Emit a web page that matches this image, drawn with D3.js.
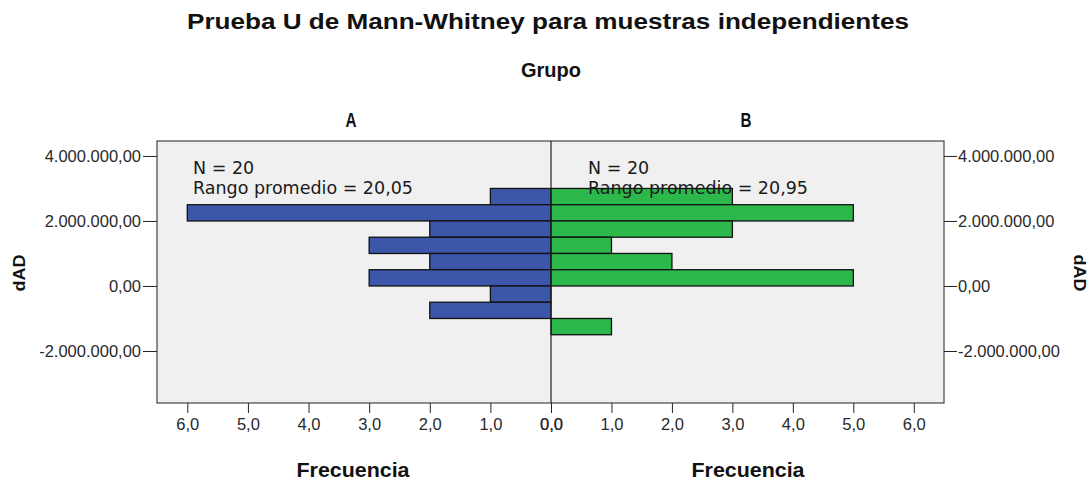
<!DOCTYPE html>
<html>
<head>
<meta charset="utf-8">
<script src="https://cdn.jsdelivr.net/npm/d3@7"></script>
<style>
  body { margin: 0; background: white; }
  .axis text { font-family: "Liberation Sans", Arial, sans-serif; fill: #2a2a2a; }
  .axis line { stroke: #222; }
  .axis path { display: none; }
</style>
</head>
<body>
<div id="canvas-div"></div>
<script>
// histogram data (bins of 500.000)
const groups = ["A", "B"];
const binStarts = [2500000, 2000000, 1500000, 1000000, 500000, 0, -500000, -1000000, -1500000];
const binWidth = 500000;
const countsA = [1, 6, 2, 3, 2, 3, 1, 2, 0];
const countsB = [3, 5, 3, 1, 2, 5, 0, 0, 1];
const yTicks = [-2000000, 0, 2000000, 4000000];
const xTicks = [0, 1, 2, 3, 4, 5, 6];
const annotA = ["N = 20", "Rango promedio = 20,05"];
const annotB = ["N = 20", "Rango promedio = 20,95"];

const width = 1092, height = 484;
const frame = { left: 157, right: 944, top: 141, bottom: 403 };
const mid = 551;

const locale = d3.formatLocale({ decimal: ",", thousands: ".", grouping: [3], currency: ["", ""], minus: "-" });
const fmtY = locale.format(",.2f");
const fmtX = locale.format(".1f");

const svg = d3.select("#canvas-div")
    .append("svg")
    .attr("width", width)
    .attr("height", height);

const yScale = d3.scaleLinear()
    .domain([-3600000, 4460000])
    .range([frame.bottom, frame.top]);

const xLeft = d3.scaleLinear().domain([0, 6.5]).range([mid, frame.left]);
const xRight = d3.scaleLinear().domain([0, 6.5]).range([mid, frame.right]);

// plot background
svg.append("rect")
    .attr("x", frame.left)
    .attr("y", frame.top)
    .attr("width", frame.right - frame.left)
    .attr("height", frame.bottom - frame.top)
    .attr("fill", "#f0f0f0");

// bars
function drawBars(counts, scale, color, cls) {
    const rows = binStarts.map((b, i) => ({ start: b, count: counts[i] })).filter(d => d.count > 0);
    svg.selectAll("." + cls)
        .data(rows)
        .enter()
        .append("rect")
        .attr("class", cls)
        .attr("x", d => Math.min(scale(0), scale(d.count)))
        .attr("y", d => yScale(d.start + binWidth))
        .attr("width", d => Math.abs(scale(d.count) - scale(0)))
        .attr("height", d => yScale(d.start) - yScale(d.start + binWidth))
        .attr("fill", color)
        .attr("stroke", "#111")
        .attr("stroke-width", 1.3);
}
drawBars(countsA, xLeft, "#3c56a9", "bar-a");
drawBars(countsB, xRight, "#2db84b", "bar-b");

// frame + centre line
svg.append("rect")
    .attr("x", frame.left)
    .attr("y", frame.top)
    .attr("width", frame.right - frame.left)
    .attr("height", frame.bottom - frame.top)
    .attr("fill", "none")
    .attr("stroke", "#444")
    .attr("stroke-width", 1.2);

svg.append("line")
    .attr("x1", mid).attr("x2", mid)
    .attr("y1", frame.top).attr("y2", frame.bottom)
    .attr("stroke", "#222")
    .attr("stroke-width", 1.2);

// annotations
function drawAnnot(lines, x) {
    svg.append("g").selectAll("text")
        .data(lines)
        .enter()
        .append("text")
        .attr("x", x)
        .attr("y", (d, i) => 174 + i * 20)
        .attr("font-family", "DejaVu Sans, sans-serif")
        .attr("font-size", 17.5)
        .attr("fill", "#1a1a1a")
        .text(d => d);
}
drawAnnot(annotA, 193);
drawAnnot(annotB, 588);

// y axes
svg.append("g")
    .attr("class", "axis")
    .attr("transform", "translate(" + frame.left + ",0)")
    .call(d3.axisLeft(yScale).tickValues(yTicks).tickSize(14).tickPadding(2).tickFormat(fmtY))
    .selectAll("text").attr("font-size", 16.5);

svg.append("g")
    .attr("class", "axis")
    .attr("transform", "translate(" + frame.right + ",0)")
    .call(d3.axisRight(yScale).tickValues(yTicks).tickSize(13).tickPadding(1).tickFormat(fmtY))
    .selectAll("text").attr("font-size", 16.5);

// x axes
[xLeft, xRight].forEach(scale => {
    svg.append("g")
        .attr("class", "axis")
        .attr("transform", "translate(0," + frame.bottom + ")")
        .call(d3.axisBottom(scale).tickValues(xTicks).tickSize(10).tickPadding(6).tickFormat(fmtX))
        .selectAll("text").attr("font-size", 16)
        .attr("textLength", 23)
        .attr("lengthAdjust", "spacingAndGlyphs");
});

// titles (stretched glyphs like the source)
function label(txt, x, y, size, len, rot) {
    const t = svg.append("text")
        .attr("text-anchor", "middle")
        .attr("font-family", "Liberation Sans, Arial, sans-serif")
        .attr("font-weight", "bold")
        .attr("font-size", size)
        .attr("fill", "#111")
        .attr("textLength", len)
        .attr("lengthAdjust", "spacingAndGlyphs")
        .text(txt);
    if (rot) {
        t.attr("transform", "translate(" + x + "," + y + ") rotate(" + rot + ")");
    } else {
        t.attr("x", x).attr("y", y);
    }
}

label("Prueba U de Mann-Whitney para muestras independientes", 548, 29, 22, 722);
label("Grupo", 551, 77, 20, 60);
label(groups[0], 351, 127, 20, 11);
label(groups[1], 746, 127, 20, 11);
label("Frecuencia", 353, 477, 19.5, 113);
label("Frecuencia", 748, 477, 19.5, 113);
label("dAD", 25, 273, 16.5, 37, -90);
label("dAD", 1074, 273, 16.5, 37, 90);
</script>
</body>
</html>
